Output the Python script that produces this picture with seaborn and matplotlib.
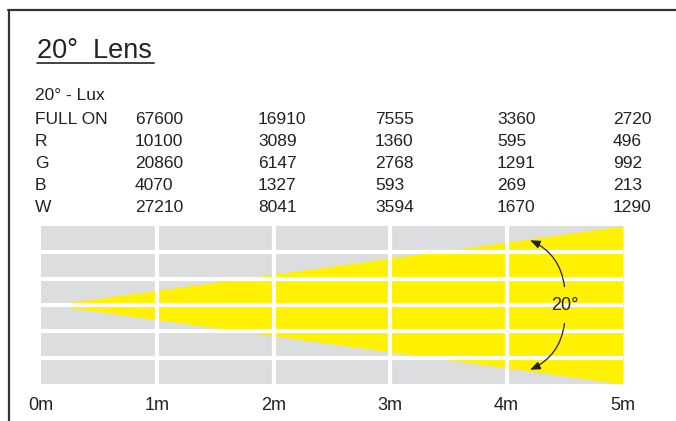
import numpy as np
import matplotlib.pyplot as plt
import seaborn as sns

# datos de la tabla de lux
filas = ["FULL ON", "R", "G", "B", "W"]
lux_1m = [67600, 10100, 20860, 4070, 27210]
lux_2m = [16910, 3089, 6147, 1327, 8041]
lux_3m = [7555, 1360, 2768, 593, 3594]
lux_4m = [3360, 595, 1291, 269, 1670]
lux_5m = [2720, 496, 992, 213, 1290]
distancias = [0, 1, 2, 3, 4, 5]
etiquetas_dist = ["0m", "1m", "2m", "3m", "4m", "5m"]

# haz de luz (apertura ilustrada)
haz_x = [0.08, 5]
haz_medio = [0, 3]

sns.set_theme(style="white")
plt.rcParams['font.family'] = ['Liberation Sans', 'DejaVu Sans']

W, H = 676, 421
fig = plt.figure(figsize=(W / 100, H / 100), dpi=100)
fig.patch.set_facecolor("white")

ax = fig.add_axes([41 / W, (H - 384) / H, (623 - 41) / W, (384 - 226) / H])
ax.set_facecolor("#dcddde")

sns.lineplot(x=haz_x, y=haz_medio, color="#fff100", ax=ax, lw=0)
ax.fill_between(haz_x, -np.array(haz_medio), haz_medio, color="#fff100", lw=0, zorder=1)

# rejilla blanca por encima del haz
for xv in distancias[1:-1]:
    ax.axvline(xv, color="white", lw=3, zorder=3)
for yv in [-2, -1, 0, 1, 2]:
    ax.axhline(yv, color="white", lw=3, zorder=3)

ax.set_xlim(0, 5)
ax.set_ylim(-3, 3)
ax.set_xticks(distancias)
ax.set_xticklabels(etiquetas_dist, fontsize=13, color="#222222")
ax.set_yticks([])
ax.tick_params(axis="x", length=0, pad=9)
for s in ax.spines.values():
    s.set_visible(False)

# flecha del ángulo
ax.text(4.5, 0, "20°", fontsize=13, ha="center", va="center", color="#222222", zorder=5)
flecha = dict(arrowstyle="-|>,head_length=0.5,head_width=0.2", color="#222222", lw=0.9)
ax.annotate("", xy=(4.18, 2.5), xytext=(4.5, 0.6),
            arrowprops=dict(connectionstyle="arc3,rad=0.3", **flecha), zorder=5)
ax.annotate("", xy=(4.18, -2.5), xytext=(4.5, -0.6),
            arrowprops=dict(connectionstyle="arc3,rad=-0.3", **flecha), zorder=5)

# título subrayado
fig.text(37 / W, 1 - 51 / H, "20°  Lens", fontsize=19.5, color="#222222", va="center", ha="left")
fig.add_artist(plt.Line2D([37 / W, 154 / W], [1 - 62.5 / H, 1 - 62.5 / H], color="#222222", lw=1.2))

# tabla
col_x = [35, 135, 258, 375, 497, 613]
fila_y = [119, 141, 164, 186, 208]
fig.text(col_x[0] / W, 1 - 96 / H, "20° - Lux", fontsize=12.5, color="#222222", va="center")
columnas = [lux_1m, lux_2m, lux_3m, lux_4m, lux_5m]
for i, nombre in enumerate(filas):
    fig.text(col_x[0] / W, 1 - fila_y[i] / H, nombre, fontsize=12.5, color="#222222", va="center")
    for j, col in enumerate(columnas):
        fig.text(col_x[j + 1] / W, 1 - fila_y[i] / H, str(col[i]), fontsize=12.5,
                 color="#222222", va="center")

# marco
fig.add_artist(plt.Line2D([8.5 / W, 8.5 / W], [0, 1 - 10 / H], color="#333333", lw=1.6))
fig.add_artist(plt.Line2D([8 / W, 1], [1 - 10 / H, 1 - 10 / H], color="#333333", lw=1.6))

fig.savefig("out.png", dpi=100)
